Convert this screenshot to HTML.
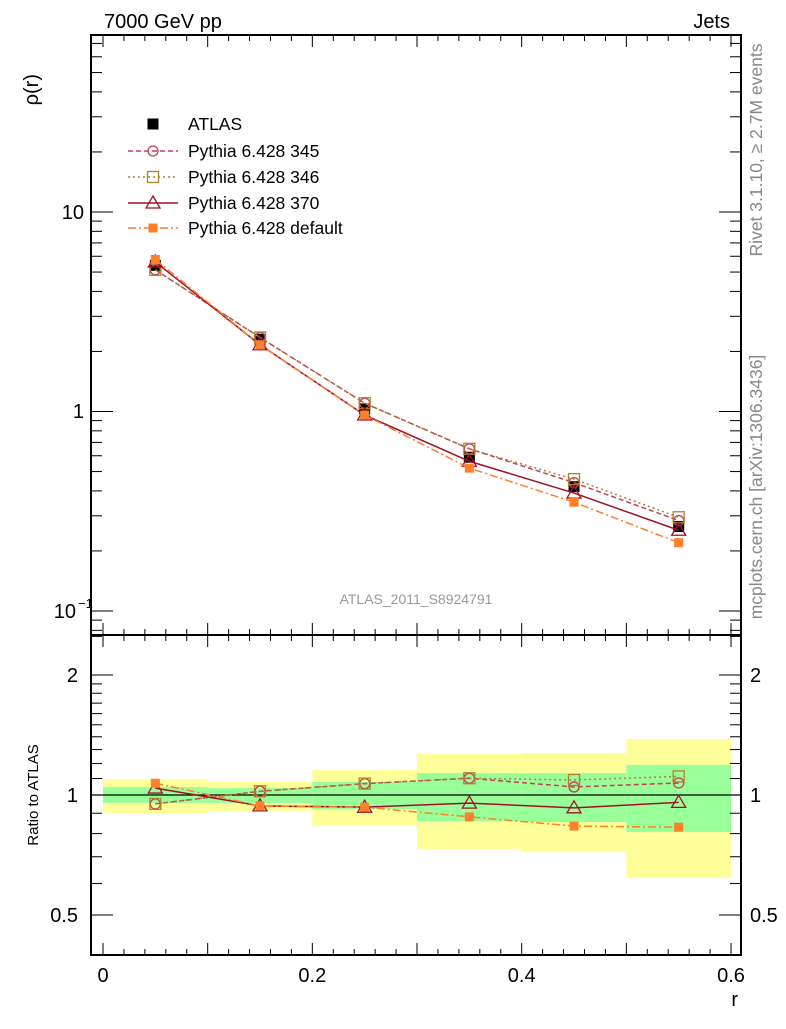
<!DOCTYPE html>
<html><head><meta charset="utf-8"><style>
body{margin:0;background:#fff;width:786px;height:1024px;overflow:hidden}
svg text{font-family:"Liberation Sans",sans-serif}
</style></head><body>
<svg id="c" width="786" height="1024" xmlns="http://www.w3.org/2000/svg"></svg>
<script>
const rCenters=[0.05,0.15,0.25,0.35,0.45,0.55];
const binEdges=[0,0.1,0.2,0.3,0.4,0.5,0.6];
const atlas=[5.4,2.3,1.03,0.59,0.42,0.265];
const p345=[5.13,2.35,1.10,0.65,0.44,0.284];
const p346=[5.13,2.35,1.10,0.65,0.458,0.295];
const p370=[5.62,2.16,0.96,0.563,0.39,0.254];
const pdef=[5.78,2.16,0.96,0.52,0.351,0.22];
const yellowHi=[1.097,1.078,1.155,1.267,1.275,1.382];
const yellowLo=[0.901,0.912,0.836,0.732,0.719,0.619];
const greenHi=[1.047,1.041,1.078,1.135,1.135,1.19];
const greenLo=[0.955,0.955,0.922,0.86,0.855,0.808];
const xTicks=[0,0.2,0.4,0.6];
const xTickLabels=["0","0.2","0.4","0.6"];

const NS="http://www.w3.org/2000/svg";
const svg=document.getElementById('c');
const L=91,R=741,T=35,M=635,B=955;
const X=v=>103+v*1046.7;
const Y=v=>212-(Math.log10(v)-1)*199.5;
const YR=v=>795-Math.log10(v)*398.6;
function el(tag,attrs,name,parent){const e=document.createElementNS(NS,tag);for(const k in attrs)e.setAttribute(k,attrs[k]);


(parent||svg).appendChild(e);return e;}
function txt(x,y,s,size,name,extra){const t=el('text',Object.assign({x:x,y:y,'font-size':size},extra||{}),name);t.textContent=s;return t;}

for(let i=0;i<6;i++){
 el('rect',{x:X(binEdges[i]),y:YR(yellowHi[i]),width:X(binEdges[i+1])-X(binEdges[i]),height:YR(yellowLo[i])-YR(yellowHi[i]),fill:'#ffff99'},'syst-band');
 el('rect',{x:X(binEdges[i]),y:YR(greenHi[i]),width:X(binEdges[i+1])-X(binEdges[i]),height:YR(greenLo[i])-YR(greenHi[i]),fill:'#99ff99'},'stat-band');
}
el('line',{x1:L,x2:R,y1:YR(1),y2:YR(1),stroke:'#000','stroke-width':1.3},'ratio-unity-line');

el('rect',{x:L,y:T,width:R-L,height:M-T,fill:'none',stroke:'#000','stroke-width':2},'main-frame');
el('rect',{x:L,y:M,width:R-L,height:B-M,fill:'none',stroke:'#000','stroke-width':2},'ratio-frame');

for(let v=0;v<=0.6001;v+=0.02){
 const big=Math.abs(v*10-Math.round(v*10))<1e-6;const len=big?12:6;const x=X(v);
 for(const [y0,d] of [[M,-1],[T,1],[B,-1]]){ if(y0===M){el('line',{x1:x,x2:x,y1:M,y2:M-len,stroke:'#000'},'x-tick');el('line',{x1:x,x2:x,y1:M,y2:M+len,stroke:'#000'},'x-tick');}
 else el('line',{x1:x,x2:x,y1:y0,y2:y0+d*len,stroke:'#000'},'x-tick');}
}
xTicks.forEach((v,i)=>txt(X(v),982,xTickLabels[i],20,'x-tick-label',{'text-anchor':'middle'}));
txt(738,1006,'r',20,'x-axis-title',{'text-anchor':'end'});

for(let e=-2;e<=1;e++)for(let m=1;m<=9;m++){const v=m*Math.pow(10,e);const y=Y(v);if(y<T||y>M)continue;const len=m===1?22:11;
 el('line',{x1:L,x2:L+len,y1:y,y2:y,stroke:'#000'},'y-tick');el('line',{x1:R,x2:R-len,y1:y,y2:y,stroke:'#000'},'y-tick');}
txt(84,219,'10',20,'y-tick-label',{'text-anchor':'end'});
txt(84,418,'1',20,'y-tick-label',{'text-anchor':'end'});
txt(76,618,'10',20,'y-tick-label',{'text-anchor':'end'});
txt(78,608,'−1',13,'y-tick-label-exp');
txt(38,74,'ρ(r)',20,'y-axis-title',{'text-anchor':'end',transform:'rotate(-90 38 74)'});

for(const v of [0.5,0.6,0.7,0.8,0.9,1,1.1,1.2,1.3,1.4,1.5,1.6,1.7,1.8,1.9,2,2.5]){const y=YR(v);if(y<M||y>B)continue;const big=(v===0.5||v===1||v===2);const len=big?22:11;
 el('line',{x1:L,x2:L+len,y1:y,y2:y,stroke:'#000'},'ratio-tick');el('line',{x1:R,x2:R-len,y1:y,y2:y,stroke:'#000'},'ratio-tick');}
[[2,'2'],[1,'1'],[0.5,'0.5']].forEach(([v,s])=>{txt(78,YR(v)+7,s,20,'ratio-tick-label',{'text-anchor':'end'});txt(750,YR(v)+7,s,20,'ratio-tick-label-right');});
txt(38,795,'Ratio to ATLAS',15,'ratio-axis-title',{'text-anchor':'middle',transform:'rotate(-90 38 795)'});

txt(104,28,'7000 GeV pp',20,'plot-title');
txt(730,28,'Jets',20,'plot-subtitle',{'text-anchor':'end'});
txt(416,604,'ATLAS_2011_S8924791',14,'analysis-label',{'text-anchor':'middle',fill:'#999'});
txt(762,150,'Rivet 3.1.10, ≥ 2.7M events',17.5,'rivet-label',{'text-anchor':'middle',fill:'#888',transform:'rotate(-90 762 150)'});
txt(762,487,'mcplots.cern.ch [arXiv:1306.3436]',17.5,'mcplots-label',{'text-anchor':'middle',fill:'#888',transform:'rotate(-90 762 487)'});

function marker(type,x,y,col,name){
 if(type==='fsq')el('rect',{x:x-5.5,y:y-5.5,width:11,height:11,fill:'#000'},name);
 else if(type==='dsq')el('rect',{x:x-4.5,y:y-4.5,width:9,height:9,fill:col},name);
 else if(type==='circ')el('circle',{cx:x,cy:y,r:5,fill:'none',stroke:col,'stroke-width':1.3},name);
 else if(type==='osq')el('rect',{x:x-5.5,y:y-5.5,width:11,height:11,fill:'none',stroke:col,'stroke-width':1.3},name);
 else if(type==='tri')el('path',{d:`M${x},${y-7}L${x+7},${y+5}L${x-7},${y+5}Z`,fill:'none',stroke:col,'stroke-width':1.3},name);
}
const series=[
 {d:p345,col:'#c0405a',dash:'5,3',type:'circ',name:'pythia-345',label:'Pythia 6.428 345'},
 {d:p346,col:'#b08030',dash:'2,3',type:'osq',name:'pythia-346',label:'Pythia 6.428 346'},
 {d:p370,col:'#a01028',dash:'',type:'tri',name:'pythia-370',label:'Pythia 6.428 370'},
 {d:pdef,col:'#ff7f2a',dash:'8,3,2,3',type:'dsq',name:'pythia-default',label:'Pythia 6.428 default'}];
atlas.forEach((v,i)=>marker('fsq',X(rCenters[i]),Y(v),'#000','atlas-point'));
series.forEach(s=>{
 const pm=s.d.map((v,i)=>X(rCenters[i])+','+Y(v)).join(' ');
 el('polyline',{points:pm,fill:'none',stroke:s.col,'stroke-width':1.5,'stroke-dasharray':s.dash},s.name+'-line');
 const pr=s.d.map((v,i)=>X(rCenters[i])+','+YR(v/atlas[i])).join(' ');
 el('polyline',{points:pr,fill:'none',stroke:s.col,'stroke-width':1.5,'stroke-dasharray':s.dash},s.name+'-ratio-line');
 s.d.forEach((v,i)=>{marker(s.type,X(rCenters[i]),Y(v),s.col,s.name+'-point');marker(s.type,X(rCenters[i]),YR(v/atlas[i]),s.col,s.name+'-ratio-point');});
});
const ly=[124,151,177,203,228];
marker('fsq',153,ly[0],'#000','legend-atlas-marker');
txt(188,ly[0]+6,'ATLAS',17.5,'legend-atlas-label');
series.forEach((s,k)=>{const y=ly[k+1];
 el('line',{x1:128,x2:178,y1:y,y2:y,stroke:s.col,'stroke-width':1.5,'stroke-dasharray':s.dash},'legend-'+s.name+'-line');
 marker(s.type,153,y,s.col,'legend-'+s.name+'-marker');
 txt(188,y+6,s.label,17.5,'legend-'+s.name+'-label');});
</script>
</body></html>
